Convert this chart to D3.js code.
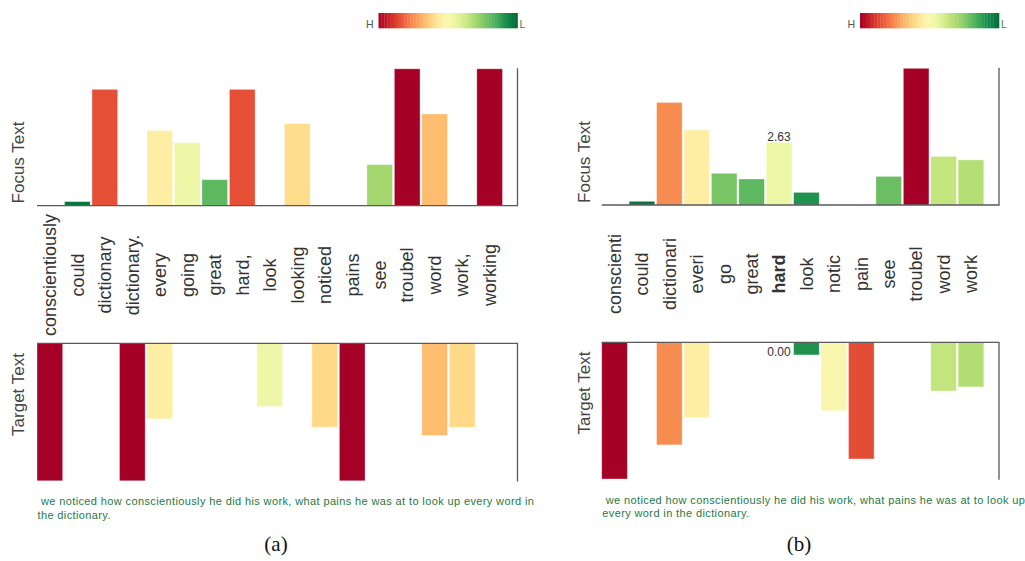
<!DOCTYPE html>
<html>
<head>
<meta charset="utf-8">
<script src="https://cdn.jsdelivr.net/npm/d3@7"></script>
<style>
  html, body { margin: 0; padding: 0; background: #fff; }
  svg { display: block; }
</style>
</head>
<body>
<script>
// Word-level attribution scores: focus text (upward bars) and target text (downward bars)
const wordsA = ["conscientiously", "could", "dictionary", "dictionary.", "every", "going", "great",
  "hard,", "look", "looking", "noticed", "pains", "see", "troubel", "word", "work,", "working"];
const focusA  = [0, 0.03, 0.85, 0, 0.55, 0.46, 0.19, 0.85, 0, 0.60, 0, 0, 0.30, 1.00, 0.67, 0, 1.00];
const targetA = [1.00, 0, 0, 1.00, 0.55, 0, 0, 0, 0.46, 0, 0.61, 1.00, 0, 0, 0.67, 0.61, 0];

const wordsB = ["conscienti", "could", "dictionari", "everi", "go", "great", "hard", "look",
  "notic", "pain", "see", "troubel", "word", "work"];
const focusB  = [0, 0.155, 4.30, 3.15, 1.33, 1.09, 2.63, 0.53, 0, 0, 1.20, 5.73, 2.04, 1.89];
const targetB = [5.73, 0, 4.30, 3.15, 0, 0, 0.00, 0.53, 2.87, 4.89, 0, 0, 2.04, 1.87];
const selectedB = "hard";

const sentence = " we noticed how conscientiously he did his work, what pains he was at to look up every word in the dictionary.";
const legendEnds = ["H", "L"];
const panelTags = ["(a)", "(b)"];
const axisTitles = ["Focus Text", "Target Text"];

const svg = d3.select("body").append("svg")
  .attr("width", 1025).attr("height", 561)
  .style("font-family", "'Liberation Sans', Arial, Helvetica, sans-serif");

const panels = [
  { words: wordsA, focus: focusA, target: targetA, selected: null, tag: panelTags[0],
    left: 37, bandEnd: 502.5, right: 517.5,
    focusBase: 205.7, focusTop: 68.8, targetBase: 343.3, targetBottom: 480.8,
    labelY: 275, titleX: 24, focusTitleY: 162.5, targetTitleY: 394.5,
    capX: 37.5, capY: 505.3, capWidth: 505, tagX: 276 },
  { words: wordsB, focus: focusB, target: targetB, selected: selectedB, tag: panelTags[1],
    left: 601.7, bandEnd: 983.8, right: 999,
    focusBase: 205, focusTop: 68.3, targetBase: 342.3, targetBottom: 479,
    labelY: 274, titleX: 590, focusTitleY: 162, targetTitleY: 393,
    capX: 602.3, capY: 503.7, capWidth: 425, tagX: 799 }
];

function drawPanel(p) {
  const g = svg.append("g");
  const max = d3.max(p.focus.concat(p.target));
  const x = d3.scaleBand().domain(p.words).range([p.left, p.bandEnd]).paddingInner(0.065);
  const yF = d3.scaleLinear().domain([0, max]).range([p.focusBase, p.focusTop]);
  const yT = d3.scaleLinear().domain([0, max]).range([p.targetBase, p.targetBottom]);
  const color = v => d3.interpolateRdYlGn(1 - v / max);

  const focusData = p.words.map((w, i) => ({ w, v: p.focus[i] }));
  const targetData = p.words.map((w, i) => ({ w, v: p.target[i] }));

  // focus bars (upward)
  g.append("g").selectAll("rect").data(focusData.filter(d => d.v > 0)).join("rect")
    .attr("x", d => x(d.w)).attr("width", x.bandwidth())
    .attr("y", d => yF(d.v)).attr("height", d => yF(0) - yF(d.v))
    .attr("fill", d => color(d.v))
    .attr("stroke", "#fff").attr("stroke-opacity", 0.45).attr("stroke-width", 0.8);

  // target bars (downward)
  g.append("g").selectAll("rect").data(targetData.filter(d => d.v > 0)).join("rect")
    .attr("x", d => x(d.w)).attr("width", x.bandwidth())
    .attr("y", yT(0)).attr("height", d => yT(d.v) - yT(0))
    .attr("fill", d => color(d.v))
    .attr("stroke", "#fff").attr("stroke-opacity", 0.45).attr("stroke-width", 0.8);

  // axis frames
  const axisColor = "#5a5a5a";
  g.append("path")
    .attr("d", `M${p.left},${yF(0)}H${p.right}V${p.focusTop - 0.5}`)
    .attr("fill", "none").attr("stroke", axisColor).attr("stroke-width", 1.3);
  g.append("path")
    .attr("d", `M${p.left},${yT(0)}H${p.right}V${p.targetBottom + 0.8}`)
    .attr("fill", "none").attr("stroke", axisColor).attr("stroke-width", 1.3);

  // word labels
  g.append("g").selectAll("text").data(p.words).join("text")
    .attr("transform", d => `translate(${x(d) + x.bandwidth() / 2},${p.labelY}) rotate(-90)`)
    .attr("text-anchor", "middle").attr("dy", "0.35em")
    .attr("font-size", 18).attr("fill", "#333")
    .attr("font-weight", d => d === p.selected ? "bold" : "normal")
    .text(d => d);

  // axis titles
  [[axisTitles[0], p.focusTitleY], [axisTitles[1], p.targetTitleY]].forEach(([t, cy]) => {
    g.append("text")
      .attr("transform", `translate(${p.titleX},${cy}) rotate(-90)`)
      .attr("text-anchor", "middle").attr("font-size", 17).attr("fill", "#444")
      .text(t);
  });

  // value labels for the selected word
  if (p.selected) {
    const i = p.words.indexOf(p.selected);
    const cx = x(p.selected) + x.bandwidth() / 2;
    g.append("text").attr("x", cx).attr("y", yF(p.focus[i]) - 1.5)
      .attr("text-anchor", "middle").attr("font-size", 12).attr("fill", "#333")
      .text(d3.format(".2f")(p.focus[i]));
    g.append("text").attr("x", cx).attr("y", yT(p.target[i]) + 13.5)
      .attr("text-anchor", "middle").attr("font-size", 12).attr("fill", "#333")
      .text(d3.format(".2f")(p.target[i]));
  }

  // colour legend H -> L
  const lw = 139, lh = 15.3, lx = p.right - lw, ly = 13;
  const nStripes = 48;
  const stripes = d3.range(nStripes);
  const sx = d3.scaleLinear().domain([0, nStripes]).range([lx, lx + lw]);
  g.append("g").selectAll("rect").data(stripes).join("rect")
    .attr("x", d => sx(d)).attr("width", sx(1) - sx(0) + 0.3)
    .attr("y", ly).attr("height", lh)
    .attr("fill", d => d3.interpolateRdYlGn((d + 0.5) / nStripes));
  g.append("text").attr("x", lx - 5).attr("y", ly + lh - 0.5)
    .attr("text-anchor", "end").attr("font-size", 10.5).attr("fill", "#555").text(legendEnds[0]);
  g.append("text").attr("x", lx + lw + 2).attr("y", ly + lh - 0.5)
    .attr("text-anchor", "start").attr("font-size", 10.5).attr("fill", "#3c7f57").text(legendEnds[1]);

  // sentence, wrapped to the panel width
  const cap = g.append("text").attr("font-size", 11).attr("fill", "#1d7a45")
    .attr("letter-spacing", "0.38px").attr("xml:space", "preserve").style("white-space", "pre");
  const tokens = sentence.split(" ");
  let lines = [];
  let line = "";
  const probe = cap.append("tspan");
  tokens.forEach((tok, k) => {
    const trial = k === 0 ? tok : line + " " + tok;
    probe.text(trial);
    if (probe.node().getComputedTextLength() > p.capWidth && line !== "") {
      lines.push(line);
      line = tok;
    } else {
      line = trial;
    }
  });
  lines.push(line);
  probe.remove();
  lines.forEach((l, k) => {
    cap.append("tspan").attr("x", p.capX).attr("y", p.capY + k * 13.2).text(l);
  });

  // panel tag
  svg.append("text").attr("x", p.tagX).attr("y", 551)
    .attr("text-anchor", "middle").attr("font-size", 21)
    .attr("font-family", "'Liberation Serif', 'Times New Roman', serif").attr("fill", "#111")
    .text(p.tag);
}

panels.forEach(drawPanel);
</script>
</body>
</html>
